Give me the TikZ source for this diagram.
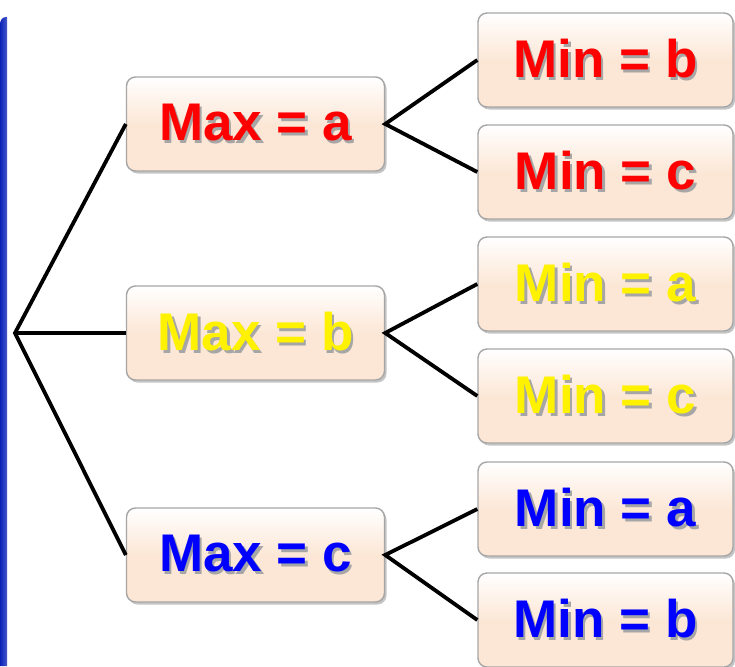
\documentclass[tikz,border=0pt]{standalone}
\usepackage{fontspec}
\setmainfont{Liberation Sans}
\usetikzlibrary{shadows}
\definecolor{peach}{HTML}{FCE7D6}
\definecolor{barblue}{HTML}{0A22B8}
\newcommand\shtxt[2]{\makebox[0pt][l]{\hspace{2.5pt}\raisebox{-2.5pt}{\color{black!35}#2}}{\color{#1}#2}}
\tikzset{
  x=1pt,y=-1pt,
  box/.style={rounded corners=9pt, draw=black!35, line width=1.4pt,
    top color=white, bottom color=peach, middle color=peach,
    drop shadow={shadow xshift=2pt,shadow yshift=-2.5pt,opacity=0.45},
    minimum height=94pt, inner sep=0pt,
    font=\bfseries\fontsize{53}{56}\selectfont},
  maxbox/.style={box, minimum width=258pt},
  minbox/.style={box, minimum width=255pt},
  conn/.style={line width=3.8pt, black}
}
\begin{document}
\begin{tikzpicture}
\useasboundingbox (0,0) rectangle (735,666);
\fill[white] (0,0) rectangle (735,666);
% left blue bar
\shade[left color=barblue, right color=barblue!75!white] (0,666) -- (0,24) to[out=90,in=180] (6,17) -- (7,17) -- (7,666) -- cycle;

\coordinate (root) at (15,333);
\node[maxbox] (ma) at (255.5,124) {\shtxt{red}{Max = a}};
\node[maxbox] (mb) at (255.5,333) {\shtxt{yellow}{Max = b}};
\node[maxbox] (mc) at (255.5,555) {\shtxt{blue}{Max = c}};

\node[minbox] (a1) at (605.5,60) {\shtxt{red}{Min = b}};
\node[minbox] (a2) at (605.5,172) {\shtxt{red}{Min = c}};
\node[minbox] (b1) at (605.5,284) {\shtxt{yellow}{Min = a}};
\node[minbox] (b2) at (605.5,396) {\shtxt{yellow}{Min = c}};
\node[minbox] (c1) at (605.5,509) {\shtxt{blue}{Min = a}};
\node[minbox] (c2) at (605.5,620) {\shtxt{blue}{Min = b}};

\draw[conn] (ma.west) -- (root) -- (mc.west);
\draw[conn] (root) -- (mb.west);
\draw[conn] (a1.west) -- (ma.east) -- (a2.west);
\draw[conn] (b1.west) -- (mb.east) -- (b2.west);
\draw[conn] (c1.west) -- (mc.east) -- (c2.west);
\end{tikzpicture}
\end{document}
